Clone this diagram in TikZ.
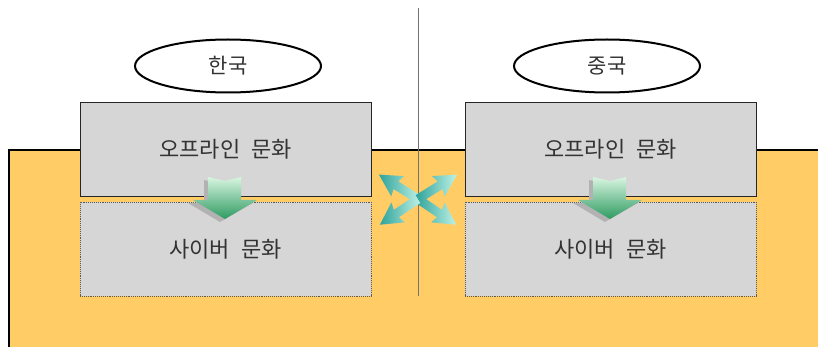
\documentclass[tikz,border=0pt]{standalone}
\usepackage{fontspec}
\newfontfamily\kr{Noto Sans CJK KR}
\usetikzlibrary{shapes.geometric}
\definecolor{bgor}{HTML}{FFCC66}
\definecolor{boxg}{HTML}{D6D6D6}
\definecolor{gdark}{HTML}{2E9B62}
\definecolor{glight}{HTML}{D8F5E0}
\definecolor{tdark}{HTML}{2FA39A}
\definecolor{tlight}{HTML}{BFF2E6}
\tikzset{
  txt/.style={font=\kr\fontsize{22}{26}\selectfont, text=black!80},
  solidbox/.style={txt, draw=black!85, line width=0.9pt, fill=boxg, minimum width=291pt, minimum height=94pt, inner sep=0pt},
  dotbox/.style={txt, draw=black!65, densely dotted, line width=0.9pt, fill=boxg, minimum width=291pt, minimum height=94pt, inner sep=0pt},
  oval/.style={txt, font=\kr\fontsize{21}{24}\selectfont, ellipse, draw=black, line width=2pt, fill=white, minimum width=186pt, minimum height=53pt, inner sep=0pt},
}
\begin{document}
\begin{tikzpicture}[x=1pt,y=-1pt]
\useasboundingbox (0,0) rectangle (818,347);
% orange background
\fill[bgor] (9,150) rectangle (818,347);
\draw[black, line width=1.2pt] (9,347) -- (9,150) -- (818,150);
% vertical divider
\draw[black!55, line width=1pt] (418,8) -- (418,296);
% boxes
\node[solidbox] (kt) at (225.5,149) {오프라인\hspace{0.5em}문화};
\node[dotbox] (kb) at (225.5,249) {사이버\hspace{0.5em}문화};
\node[solidbox] (ct) at (610.5,149) {오프라인\hspace{0.5em}문화};
\node[dotbox] (cb) at (610.5,249) {사이버\hspace{0.5em}문화};
% ovals
\node[oval] (ko) at (228,66) {한국};
\node[oval] (co) at (607,66) {중국};
% down arrows
\foreach \cx in {225,610}{
  \fill[black!30] (\cx-21,180) -- (\cx-5,184) -- (\cx+11,180) -- (\cx+11,203) -- (\cx+28,203) -- (\cx-5,222) -- (\cx-37,203) -- (\cx-21,203) -- cycle;
  \shade[top color=glight, bottom color=gdark] (\cx-17,177) -- (\cx,181) -- (\cx+16,177) -- (\cx+16,200) -- (\cx+32,200) -- (\cx,219) -- (\cx-32,200) -- (\cx-17,200) -- cycle;
}
% cross arrows
\coordinate (xc) at (418,199);
\foreach \ang in {34,146,212,328}{
  \begin{scope}[shift={(xc)}, rotate=-\ang]
    \shade[left color=tdark, right color=tlight] (0,-4.5) -- (26,-4.5) -- (24,-12) -- (46,0) -- (24,12) -- (26,4.5) -- (0,4.5) -- cycle;
  \end{scope}
}
\end{tikzpicture}
\end{document}
